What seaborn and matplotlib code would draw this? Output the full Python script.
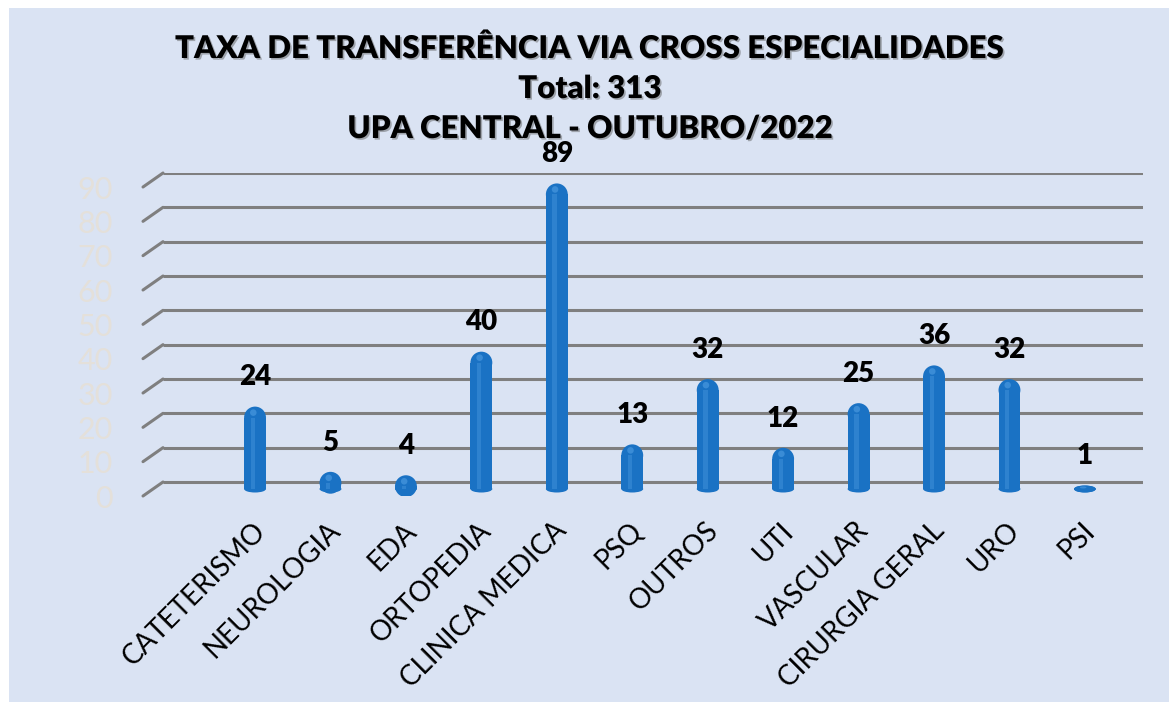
import matplotlib
matplotlib.use("Agg")
import seaborn as sns
import matplotlib.pyplot as plt
import matplotlib.patheffects as pe
import matplotlib.transforms as mtransforms
from matplotlib.patches import Rectangle, Ellipse
import pandas as pd

# dados do grafico
categories = ["CATETERISMO", "NEUROLOGIA", "EDA", "ORTOPEDIA", "CLINICA MEDICA", "PSQ",
              "OUTROS", "UTI", "VASCULAR", "CIRURGIA GERAL", "URO", "PSI"]
values = [24, 5, 4, 40, 89, 13, 32, 12, 25, 36, 32, 1]
y_ticks = [0, 10, 20, 30, 40, 50, 60, 70, 80, 90]
title_lines = ["TAXA DE TRANSFERÊNCIA VIA CROSS ESPECIALIDADES",
               "Total: 313",
               "UPA CENTRAL - OUTUBRO/2022"]

df = pd.DataFrame({"especialidade": categories, "total": values})

sns.set_theme(style="white")
plt.rcParams["font.family"] = ["Lato", "DejaVu Sans"]

W, H = 1169, 702
bg = "#dae3f3"
bar_color = "#1a72c4"
grid_color = "#7f7f7f"

fig = plt.figure(figsize=(W / 100, H / 100), dpi=100, facecolor="white")
fig.patches.append(Rectangle((9 / W, 0), 1, (H - 8) / H, transform=fig.transFigure,
                             facecolor=bg, edgecolor="none", zorder=-10))

# eixo (profundidade simulada do grafico 3d)
ax_l, ax_r, ax_top, ax_bot = 163, 1143, 173, 496
ax = fig.add_axes([ax_l / W, (H - ax_bot) / H, (ax_r - ax_l) / W, (ax_bot - ax_top) / H])
ax.set_facecolor("none")

depth = 2.04
xmin, xmax = -1.22, 11.77
ymin, ymax = -depth, 90 + depth
bar_w = 0.29

sns.barplot(data=df, x="especialidade", y="total", color=bar_color, width=bar_w,
            saturation=1, linewidth=0, ax=ax, zorder=3)
ax.set_xlim(xmin, xmax)
ax.set_ylim(ymin, ymax)

px_x = (ax_r - ax_l) / (xmax - xmin)
px_y = (ax_bot - ax_top) / (ymax - ymin)
cap = (bar_w * px_x / 2) / px_y  # raio do topo em unidades y

for p in list(ax.patches):
    x, w, h = p.get_x(), p.get_width(), p.get_height()
    r = min(cap, h)
    p.set_height(max(h - r, 0))
    p.set_linewidth(0)
    ax.add_patch(Ellipse((x + w / 2, h - r), w, 2 * r, facecolor=bar_color, zorder=3, lw=0))
    ax.add_patch(Ellipse((x + w / 2, 0), w, depth, facecolor=bar_color, zorder=3, lw=0))
    # brilho do cilindro
    ax.add_patch(Rectangle((x + w * 0.3, 0), w * 0.2, max(h - r, 0), facecolor="#4d9be2",
                           alpha=0.4, lw=0, zorder=4))
    ax.add_patch(Ellipse((x + w * 0.42, h - r * 0.55), w * 0.3, r * 0.6, facecolor="#5aa6e8",
                         alpha=0.5, lw=0, zorder=4))

# linhas de grade com perspectiva
tr = ax.get_yaxis_transform()
for t in y_ticks:
    ax.plot([0, 1], [t + depth, t + depth], transform=tr, color=grid_color, lw=2.2,
            zorder=1, solid_capstyle="butt")
    ax.plot([0, -20 / (ax_r - ax_l)], [t + depth, t - depth], transform=tr,
            color=grid_color, lw=2.2, zorder=1, clip_on=False)

ax.set_yticks([t - depth for t in y_ticks], labels=[str(t) for t in y_ticks])
ax.tick_params(axis="y", length=0, pad=36, labelsize=22, labelcolor="#e4e0da")
ax.set_xticks(range(len(categories)), labels=categories)
ax.tick_params(axis="x", length=0, pad=22, labelsize=20, labelcolor="black")
shift = mtransforms.ScaledTranslation(6 / 100, 0, fig.dpi_scale_trans)
for lab in ax.get_xticklabels():
    lab.set_rotation(45)
    lab.set_ha("right")
    lab.set_va("center")
    lab.set_rotation_mode("anchor")
    lab.set_transform(lab.get_transform() + shift)

ax.set_xlabel("")
ax.set_ylabel("")
sns.despine(ax=ax, left=True, bottom=True)

for i, v in enumerate(values):
    ax.annotate(str(v), (i, v), xytext=(0, 21), textcoords="offset points",
                ha="center", va="center", fontsize=20, fontweight="heavy", color="black")

shadow = [pe.withSimplePatchShadow(offset=(1.2, -1.2), shadow_rgbFace="#555555", alpha=0.45)]
for line, y in zip(title_lines, [49, 89, 129]):
    fig.text(590 / W, 1 - y / H, line, ha="center", va="center", fontsize=22.5,
             fontweight="heavy", color="black", path_effects=shadow)

fig.savefig("out.png", dpi=100, facecolor=fig.get_facecolor())
